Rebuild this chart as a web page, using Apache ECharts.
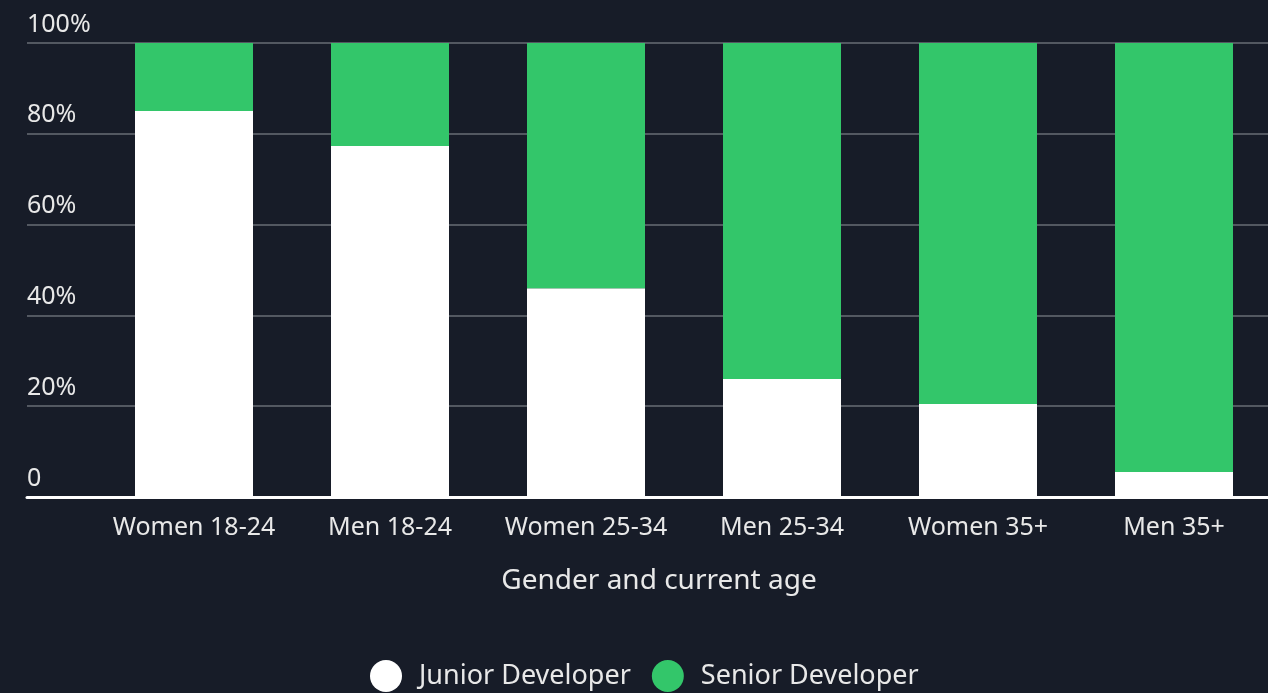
<!DOCTYPE html>
<html>
<head>
<meta charset="utf-8">
<script src="https://cdn.jsdelivr.net/npm/echarts@6/dist/echarts.min.js"></script>
<style>
  html, body { margin: 0; padding: 0; background: #171c28; overflow: hidden; }
  #chart { width: 1272px; height: 693px; }
</style>
</head>
<body>
<div id="chart"></div>
<script>
(function () {
  "use strict";

  var BG = "#171c28";
  var GREEN = "#33c66a";
  var GRID = "#686c74";
  var FONT = "'Noto Sans', sans-serif";

  var categories = ["Women 18-24", "Men 18-24", "Women 25-34", "Men 25-34", "Women 35+", "Men 35+"];
  var junior = [85, 77.3, 46, 26, 20.5, 5.5];
  var senior = [15, 22.7, 54, 74, 79.5, 94.5];
  var yTicks = [0, 20, 40, 60, 80, 100];

  var chart = echarts.init(document.getElementById("chart"));

  chart.setOption({
    backgroundColor: BG,
    textStyle: { fontFamily: FONT },
    animation: false,
    legend: {
      bottom: -4,
      left: 365,
      icon: "circle",
      itemWidth: 32,
      itemHeight: 32,
      itemGap: 21,
      textStyle: { color: "#e8e8e8", fontSize: 27, fontFamily: FONT, padding: [0, 0, 0, 12] },
      data: ["Junior Developer", "Senior Developer"]
    },
    grid: [
      { left: 96, width: 1176, top: 43, height: 454 },
      { left: 27, right: 0, top: 43, height: 454 }
    ],
    xAxis: [
      {
        type: "category",
        gridIndex: 0,
        data: categories,
        axisLine: { show: false },
        axisTick: { show: false },
        axisLabel: { color: "#e8e8e8", fontSize: 25, margin: 18, interval: 0, fontFamily: FONT },
        name: "Gender and current age",
        nameLocation: "middle",
        nameGap: 70,
        nameTextStyle: { color: "#e8e8e8", fontSize: 28, fontFamily: FONT, padding: [0, 0, 0, -50] }
      },
      {
        type: "value",
        gridIndex: 1,
        min: 0,
        max: 1,
        axisLine: { show: true, onZero: false, lineStyle: { color: "#ffffff", width: 3 } },
        axisTick: { show: false },
        axisLabel: { show: false },
        splitLine: { show: false }
      }
    ],
    yAxis: [
      {
        type: "value",
        gridIndex: 0,
        min: 0,
        max: 100,
        interval: 20,
        axisLine: { show: false },
        axisTick: { show: false },
        axisLabel: { show: false },
        splitLine: { show: false }
      },
      {
        type: "value",
        gridIndex: 1,
        min: 0,
        max: 100,
        interval: 20,
        axisLine: { show: false },
        axisTick: { show: false },
        splitLine: { lineStyle: { color: GRID, width: 1.5 } },
        axisLabel: {
          inside: true,
          margin: 0,
          align: "left",
          verticalAlign: "bottom",
          padding: [0, 0, 6, 0],
          color: "#e8e8e8",
          fontSize: 25,
          fontFamily: FONT,
          formatter: function (v) { return yTicks.indexOf(v) === 0 ? "0" : v + "%"; }
        }
      }
    ],
    series: [
      {
        name: "Junior Developer",
        type: "bar",
        stack: "total",
        xAxisIndex: 0,
        yAxisIndex: 0,
        barWidth: 118,
        data: junior,
        itemStyle: { color: "#ffffff" },
        z: 3
      },
      {
        name: "Senior Developer",
        type: "bar",
        stack: "total",
        xAxisIndex: 0,
        yAxisIndex: 0,
        barWidth: 118,
        data: senior,
        itemStyle: { color: GREEN },
        z: 3
      }
    ]
  });
})();
</script>
</body>
</html>
